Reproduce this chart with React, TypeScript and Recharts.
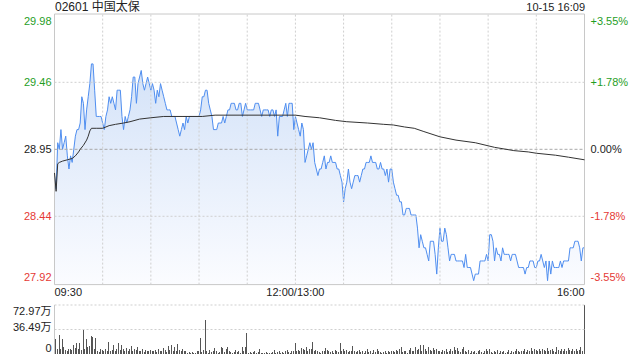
import React from 'react';
import {
  ComposedChart, Area, Line, XAxis, YAxis, ReferenceLine, ReferenceArea,
  BarChart, Bar
} from 'recharts';

// previous close, the 0.00% line
const PREV_CLOSE = 28.95;

const PRICE_TICKS = [27.92, 28.44, 28.95, 29.46, 29.98];
const PCT_LABELS = ['-3.55%', '-1.78%', '0.00%', '+1.78%', '+3.55%'];
const TIME_TICKS = [0, 150, 330];
const TIME_LABELS = ['09:30', '12:00/13:00', '16:00'];
const GRID_TIMES = [30, 60, 90, 120, 150, 180, 210, 240, 270, 300];
const VOL_TICKS = [0, 36.49, 72.97];
const VOL_LABELS = ['0', '36.49万', '72.97万'];

// one price per minute, 09:30 .. 12:00 | 13:00 .. 16:00
const PRICES = [
  28.75, 28.65, 29.00, 28.95, 29.10, 28.95, 29.00, 29.05, 28.90, 28.80,
  28.90, 28.85, 28.95, 29.05, 29.10, 29.10, 29.15, 29.35, 29.30, 29.10,
  29.25, 29.35, 29.45, 29.60, 29.60, 29.40, 29.20, 29.20, 29.20, 29.20,
  29.15, 29.10, 29.20, 29.25, 29.35, 29.30, 29.35, 29.30, 29.25, 29.40,
  29.40, 29.40, 29.20, 29.10, 29.20, 29.15, 29.20, 29.25, 29.35, 29.50,
  29.50, 29.30, 29.45, 29.50, 29.55, 29.45, 29.40, 29.45, 29.50, 29.45,
  29.40, 29.45, 29.40, 29.30, 29.40, 29.35, 29.45, 29.40, 29.35, 29.30,
  29.25, 29.25, 29.25, 29.20, 29.20, 29.20, 29.15, 29.10, 29.05, 29.10,
  29.15, 29.10, 29.20, 29.15, 29.20, 29.20, 29.20, 29.20, 29.20, 29.20,
  29.20, 29.25, 29.35, 29.35, 29.40, 29.40, 29.30, 29.25, 29.20, 29.10,
  29.10, 29.10, 29.15, 29.15, 29.15, 29.20, 29.15, 29.20, 29.25, 29.25,
  29.30, 29.30, 29.30, 29.25, 29.25, 29.30, 29.30, 29.20, 29.25, 29.30,
  29.25, 29.25, 29.25, 29.25, 29.25, 29.30, 29.30, 29.30, 29.25, 29.20,
  29.25, 29.25, 29.25, 29.25, 29.20, 29.25, 29.25, 29.20, 29.25, 29.05,
  29.20, 29.20, 29.20, 29.25, 29.30, 29.20, 29.30, 29.30, 29.30, 29.10,
  29.20, 29.15, 29.10, 29.05, 29.15, 29.10, 28.85, 28.90, 28.95, 29.00,
  28.95, 29.00, 28.85, 28.80, 28.75, 28.80, 28.80, 28.85, 28.90, 28.80,
  28.85, 28.85, 28.90, 28.85, 28.85, 28.85, 28.80, 28.80, 28.75, 28.70,
  28.55, 28.65, 28.70, 28.80, 28.70, 28.65, 28.70, 28.75, 28.75, 28.75,
  28.70, 28.75, 28.80, 28.80, 28.85, 28.85, 28.85, 28.90, 28.85, 28.85,
  28.85, 28.80, 28.80, 28.85, 28.80, 28.80, 28.75, 28.80, 28.70, 28.80,
  28.80, 28.70, 28.65, 28.60, 28.60, 28.55, 28.55, 28.45, 28.45, 28.50,
  28.50, 28.50, 28.45, 28.45, 28.45, 28.45, 28.35, 28.20, 28.30, 28.25,
  28.20, 28.20, 28.15, 28.10, 28.25, 28.25, 28.25, 28.15, 28.00, 28.20,
  28.35, 28.25, 28.25, 28.35, 28.30, 28.20, 28.10, 28.15, 28.15, 28.15,
  28.10, 28.10, 28.10, 28.10, 28.10, 28.05, 28.15, 28.05, 28.05, 28.05,
  28.00, 27.95, 28.00, 28.00, 28.00, 28.10, 28.10, 28.10, 28.10, 28.15,
  28.10, 28.30, 28.30, 28.25, 28.10, 28.20, 28.15, 28.15, 28.10, 28.20,
  28.15, 28.15, 28.15, 28.15, 28.10, 28.15, 28.15, 28.15, 28.10, 28.05,
  28.05, 28.05, 28.05, 28.00, 28.05, 28.05, 28.10, 28.10, 28.10, 28.05,
  28.05, 28.10, 28.10, 28.15, 28.10, 28.05, 28.10, 27.95, 28.10, 28.00,
  28.10, 28.05, 28.05, 28.05, 28.05, 28.10, 28.05, 28.10, 28.10, 28.10,
  28.10, 28.20, 28.20, 28.20, 28.25, 28.25, 28.25, 28.20, 28.10, 28.20,
  28.20,
];

// average price line, read at these minutes
const AVG_TIMES = [
  0, 1, 2, 3, 5, 8, 11, 13, 15, 16,
  18, 20, 21, 22, 23, 26, 30, 34, 38, 43,
  47, 53, 60, 68, 80, 92, 100, 150, 156, 165,
  175, 182, 195, 205, 211, 218, 224, 230, 240, 250,
  262, 274, 286, 295, 300, 312, 320, 330,
];
const AVG_VALUES = [
  28.77, 28.63, 28.84, 28.85, 28.86, 28.87, 28.88, 28.90, 28.93, 28.95,
  28.98, 29.02, 29.05, 29.09, 29.11, 29.11, 29.11, 29.13, 29.14, 29.15,
  29.16, 29.18, 29.19, 29.20, 29.20, 29.20, 29.21, 29.21, 29.20, 29.19,
  29.17, 29.16, 29.15, 29.14, 29.135, 29.12, 29.11, 29.085, 29.045, 29.02,
  29.00, 28.965, 28.94, 28.93, 28.92, 28.905, 28.89, 28.87,
];

// volume per minute, 万股
const VOLUMES = [
  4, 22, 8, 29, 8, 22, 10, 6, 5, 7,
  8, 6, 14, 9, 17, 8, 16, 6, 36, 7,
  23, 10, 12, 27, 26, 8, 24, 4, 3, 8,
  6, 5, 7, 4, 18, 5, 6, 14, 4, 8,
  16, 6, 13, 7, 5, 9, 4, 8, 12, 5,
  7, 6, 10, 4, 5, 8, 3, 6, 5, 4,
  6, 5, 4, 6, 3, 7, 5, 4, 9, 6,
  3, 12, 6, 13, 5, 11, 4, 15, 6, 5,
  7, 4, 5, 2, 3, 2, 3, 1, 2, 4,
  5, 24, 3, 6, 50, 4, 2, 6, 3, 5,
  9, 4, 2, 3, 10, 9, 3, 8, 10, 5,
  3, 2, 3, 6, 3, 5, 2, 11, 4, 11,
  31, 2, 3, 2, 3, 5, 2, 3, 8, 2,
  1, 2, 3, 2, 1, 2, 3, 6, 2, 3,
  4, 2, 3, 2, 4, 6, 3, 2, 4, 5,
  16, 5, 6, 4, 9, 8, 6, 10, 5, 8,
  7, 18, 4, 6, 5, 3, 2, 5, 4, 9,
  6, 4, 3, 5, 2, 6, 4, 3, 17, 5,
  8, 4, 6, 3, 5, 4, 12, 5, 3, 4,
  6, 3, 5, 2, 4, 7, 3, 5, 2, 6,
  3, 8, 4, 3, 2, 3, 5, 2, 4, 3,
  5, 4, 3, 6, 4, 8, 11, 3, 5, 4,
  2, 6, 9, 4, 5, 10, 6, 8, 13, 5,
  14, 7, 5, 10, 6, 4, 9, 6, 8, 4,
  5, 3, 6, 4, 8, 3, 5, 7, 4, 10,
  6, 9, 5, 3, 7, 10, 4, 3, 6, 2,
  4, 3, 5, 2, 4, 6, 3, 2, 5, 8,
  4, 7, 3, 2, 5, 3, 6, 2, 4, 3,
  5, 2, 3, 6, 2, 4, 3, 5, 7, 4,
  3, 5, 4, 8, 3, 6, 4, 9, 5, 7,
  6, 4, 8, 5, 7, 6, 4, 9, 5, 6,
  8, 4, 3, 10, 6, 4, 8, 5, 7, 4,
  9, 6, 4, 8, 5, 7, 4, 6, 10, 5,
  72.97,
];

const FONT = '"Liberation Sans", Arial, "Noto Sans CJK SC", sans-serif';
const GREEN = '#1f9e1f';
const RED = '#e53935';
const TEXT = '#222';
const GRID = '#cfcfcf';

const priceRows = PRICES.map((p, i) => ({ t: i, p }));
const avgRows = AVG_TIMES.map((t, i) => ({ t, a: AVG_VALUES[i] }));
const volRows = VOLUMES.map((v, i) => ({ t: i, v }));

const tickIndex = (arr: number[], v: number) => arr.findIndex(a => Math.abs(a - v) < 1e-6);

const PriceTick = (props: any) => {
  const { x, y, payload, side } = props;
  const v = payload.value;
  const idx = tickIndex(PRICE_TICKS, v);
  const color = v > PREV_CLOSE + 1e-6 ? GREEN : v < PREV_CLOSE - 1e-6 ? RED : TEXT;
  const shift = idx === PRICE_TICKS.length - 1 ? 7 : idx === 0 ? -7 : 0;
  return (
    <text x={x} y={y + shift} dy="0.35em" textAnchor={side === 'left' ? 'end' : 'start'}
      fill={color} fontSize={11} fontFamily={FONT}>
      {side === 'left' ? v.toFixed(2) : PCT_LABELS[idx]}
    </text>
  );
};

const TimeTick = (props: any) => {
  const { x, y, payload } = props;
  const idx = tickIndex(TIME_TICKS, payload.value);
  const anchor = idx === 0 ? 'start' : idx === TIME_TICKS.length - 1 ? 'end' : 'middle';
  return (
    <text x={x} y={y} dy="0.75em" textAnchor={anchor} fill={TEXT} fontSize={11} fontFamily={FONT}>
      {TIME_LABELS[idx]}
    </text>
  );
};

const VolTick = (props: any) => {
  const { x, y, payload } = props;
  const idx = tickIndex(VOL_TICKS, payload.value);
  const shift = idx === VOL_TICKS.length - 1 ? 6 : idx === 0 ? -6 : -2;
  return (
    <text x={x} y={y + shift} dy="0.35em" textAnchor="end" fill={TEXT} fontSize={11} fontFamily={FONT}>
      {VOL_LABELS[idx]}
    </text>
  );
};

const VolBar = (props: any) => (
  <rect x={props.x} y={props.y} width={props.width} height={props.height} fill="#555" shapeRendering="crispEdges" />
);

export default function App() {
  return (
    <div style={{ position: 'absolute', left: 0, top: 0, width: 640, height: 360, background: '#fff', fontFamily: FONT }}>
      <div style={{ position: 'absolute', left: 55, top: 0, fontSize: 12, color: TEXT, lineHeight: '14px' }}>
        02601 中国太保
      </div>
      <div style={{ position: 'absolute', right: 55, top: 1, fontSize: 11, color: TEXT, lineHeight: '13px' }}>
        10-15 16:09
      </div>
      <div style={{ position: 'absolute', left: 527, top: 270, fontSize: 13, color: '#d2d2d2', lineHeight: '14px' }}>
        sina.com
      </div>

      <div style={{ position: 'absolute', left: 0, top: 0 }}>
        <ComposedChart width={640} height={300} margin={{ top: 14, right: 0, bottom: 0, left: 0 }}>
          <defs>
            <linearGradient id="priceFill" x1="0" y1="0" x2="0" y2="1">
              <stop offset="0%" stopColor="#d3e2f8" />
              <stop offset="100%" stopColor="#fbfcff" />
            </linearGradient>
          </defs>
          <XAxis type="number" dataKey="t" domain={[0, 330]} ticks={TIME_TICKS} interval={0}
            height={15.4} axisLine={false} tickLine={false} tickSize={0} tickMargin={3}
            tick={(p: any) => <TimeTick {...p} />} />
          <YAxis yAxisId="p" domain={[27.92, 29.98]} ticks={PRICE_TICKS} interval={0} width={54.5}
            axisLine={false} tickLine={false} tickSize={0} tickMargin={3}
            tick={(p: any) => <PriceTick {...p} side="left" />} />
          <YAxis yAxisId="r" orientation="right" domain={[27.92, 29.98]} ticks={PRICE_TICKS} interval={0} width={55.5}
            axisLine={false} tickLine={false} tickSize={0} tickMargin={6}
            tick={(p: any) => <PriceTick {...p} side="right" />} />

          {GRID_TIMES.map(t => (
            <ReferenceLine key={'v' + t} yAxisId="p" x={t} stroke={GRID} strokeDasharray="2 2" />
          ))}
          <ReferenceLine yAxisId="p" y={PRICE_TICKS[1]} stroke={GRID} strokeDasharray="2 2" />
          <ReferenceLine yAxisId="p" y={PRICE_TICKS[3]} stroke={GRID} strokeDasharray="2 2" />

          {/* price area sits on the right (percent) axis; both axes share one domain */}
          <Area yAxisId="r" data={priceRows} dataKey="p" type="linear" baseValue="dataMin"
            stroke="#4f8ef0" strokeWidth={1} fill="url(#priceFill)" fillOpacity={1}
            dot={false} activeDot={false} isAnimationActive={false} />
          <ReferenceLine yAxisId="p" y={PREV_CLOSE} stroke="#a8a8a8" strokeDasharray="3 2" />
          <Line yAxisId="p" data={avgRows} dataKey="a" type="linear" stroke="#333" strokeWidth={1}
            dot={false} activeDot={false} isAnimationActive={false} />

          <ReferenceArea yAxisId="p" x1={0} x2={330} y1={27.92} y2={29.98} fill="none" stroke="#c8c8c8" strokeOpacity={1} />
        </ComposedChart>
      </div>

      <div style={{ position: 'absolute', left: 0, top: 300 }}>
        <BarChart width={640} height={56} data={volRows} margin={{ top: 5, right: 55.5, bottom: 2, left: 0 }}>
          <XAxis type="number" dataKey="t" domain={[0, 330]} hide />
          <YAxis domain={[0, 72.97]} ticks={VOL_TICKS} interval={0} width={54.5}
            axisLine={false} tickLine={false} tickSize={0} tickMargin={3}
            tick={(p: any) => <VolTick {...p} />} />
          <ReferenceLine y={VOL_TICKS[2]} stroke={GRID} strokeDasharray="2 2" />
          <ReferenceLine y={VOL_TICKS[1]} stroke={GRID} strokeDasharray="2 2" />
          <ReferenceLine x={0} stroke="#c8c8c8" />
          <Bar dataKey="v" barSize={1} shape={(p: any) => <VolBar {...p} />} isAnimationActive={false} />
        </BarChart>
      </div>
    </div>
  );
}
